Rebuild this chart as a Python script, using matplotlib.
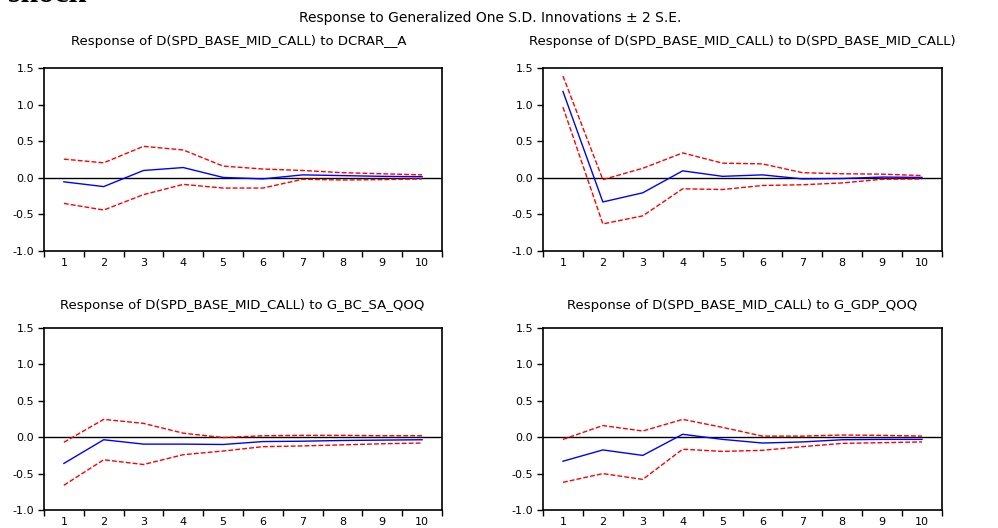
import matplotlib
matplotlib.use('Agg')
import matplotlib.pyplot as plt
import numpy as np

plt.rcParams['font.family'] = ['DejaVu Sans']

periods = [1, 2, 3, 4, 5, 6, 7, 8, 9, 10]

titles = [
    'Response of D(SPD_BASE_MID_CALL) to DCRAR__A',
    'Response of D(SPD_BASE_MID_CALL) to D(SPD_BASE_MID_CALL)',
    'Response of D(SPD_BASE_MID_CALL) to G_BC_SA_QOQ',
    'Response of D(SPD_BASE_MID_CALL) to G_GDP_QOQ',
]

# impulse responses (blue) and +/- 2 S.E. bands (red)
resp_dcrar = [-0.055, -0.12, 0.10, 0.14, 0.005, -0.015, 0.04, 0.03, 0.02, 0.015]
upper_dcrar = [0.255, 0.205, 0.43, 0.38, 0.16, 0.12, 0.10, 0.07, 0.055, 0.04]
lower_dcrar = [-0.35, -0.44, -0.23, -0.09, -0.14, -0.14, -0.02, -0.03, -0.025, -0.015]

resp_spd = [1.18, -0.33, -0.205, 0.095, 0.02, 0.04, -0.015, -0.01, 0.01, 0.005]
upper_spd = [1.39, -0.025, 0.13, 0.34, 0.20, 0.19, 0.07, 0.055, 0.05, 0.03]
lower_spd = [0.965, -0.63, -0.52, -0.15, -0.16, -0.105, -0.095, -0.07, -0.02, -0.015]

resp_bc = [-0.36, -0.035, -0.095, -0.095, -0.10, -0.06, -0.055, -0.045, -0.04, -0.035]
upper_bc = [-0.07, 0.245, 0.19, 0.055, -0.005, 0.02, 0.025, 0.025, 0.02, 0.02]
lower_bc = [-0.66, -0.31, -0.375, -0.24, -0.19, -0.13, -0.12, -0.105, -0.09, -0.08]

resp_gdp = [-0.33, -0.175, -0.25, 0.04, -0.03, -0.08, -0.065, -0.035, -0.03, -0.03]
upper_gdp = [-0.03, 0.16, 0.085, 0.245, 0.135, 0.015, 0.015, 0.03, 0.025, 0.015]
lower_gdp = [-0.62, -0.50, -0.58, -0.165, -0.195, -0.18, -0.13, -0.085, -0.075, -0.065]

panels = [
    (resp_dcrar, upper_dcrar, lower_dcrar),
    (resp_spd, upper_spd, lower_spd),
    (resp_bc, upper_bc, lower_bc),
    (resp_gdp, upper_gdp, lower_gdp),
]

W, H = 998, 528
fig = plt.figure(figsize=(W / 100, H / 100), dpi=100)

# axes boxes in pixels: left, top, right, bottom
boxes = [(44, 68, 442, 251), (543, 68, 942, 251),
         (44, 328, 442, 510), (543, 328, 942, 510)]
title_pos = [(239, 42), (742, 42), (242, 306), (742, 306)]

for i, (resp, up, lo) in enumerate(panels):
    l, t, r, b = boxes[i]
    ax = fig.add_axes([l / W, 1 - b / H, (r - l) / W, (b - t) / H])
    ax.axhline(0, color='black', lw=1.0, zorder=1)
    ax.plot(periods, up, color='#ff0000', lw=1.0, ls=(0, (3.5, 1.5)), zorder=2)
    ax.plot(periods, lo, color='#ff0000', lw=1.0, ls=(0, (3.5, 1.5)), zorder=2)
    ax.plot(periods, resp, color='#0000ff', lw=1.0, zorder=3)
    ax.set_xlim(0.5, 10.5)
    ax.set_ylim(-1.0, 1.5)
    yt = np.arange(-1.0, 1.51, 0.5)
    ax.set_yticks(yt)
    ax.set_yticklabels(['%.1f' % v for v in yt], fontsize=8)
    ax.set_xticks(periods)
    ax.set_xticklabels([str(p) for p in periods], fontsize=8)
    ax.set_xticks(np.arange(0.5, 10.6, 1.0), minor=True)
    ax.tick_params(axis='x', which='major', length=0, pad=5)
    ax.tick_params(axis='x', which='minor', length=4, width=1, direction='out')
    ax.tick_params(axis='y', length=4, width=1, direction='out', pad=3)
    for s in ax.spines.values():
        s.set_linewidth(1.2)
    fig.text(title_pos[i][0] / W, 1 - title_pos[i][1] / H, titles[i],
             ha='center', va='center', fontsize=9.5)

fig.text(490 / W, 1 - 18 / H, 'Response to Generalized One S.D. Innovations \u00b1 2 S.E.',
         ha='center', va='center', fontsize=10)

# word cut off at the very top of the source image
fig.text(8 / W, 1 - 2 / H, 'shock', ha='left', va='baseline', fontsize=23,
         family='Liberation Serif', fontweight='bold')

fig.savefig('out.png', dpi=100)
